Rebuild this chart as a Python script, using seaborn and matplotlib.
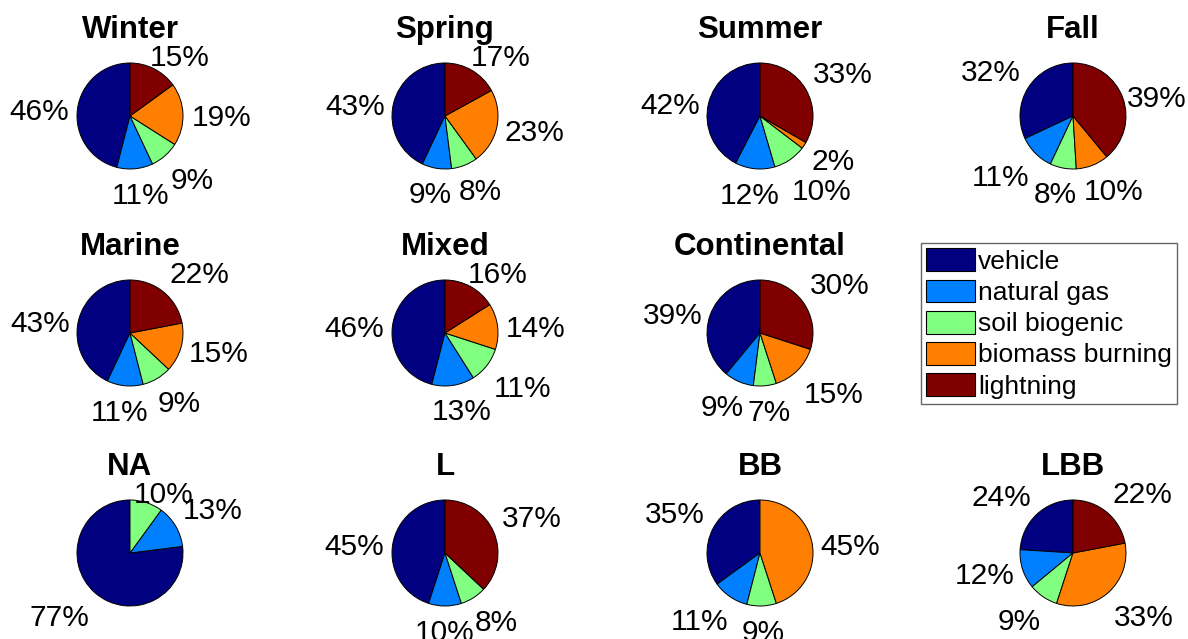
import numpy as np
import seaborn as sns
import matplotlib.pyplot as plt
from matplotlib.patches import Patch

# -----------------------------------------------
# 1. DATOS
# -----------------------------------------------

fuentes = ["vehicle", "natural gas", "soil biogenic", "biomass burning", "lightning"]
colores = ["#000080", "#0080FF", "#80FF80", "#FF8000", "#800000"]

titulos = ["Winter", "Spring", "Summer", "Fall",
           "Marine", "Mixed", "Continental",
           "NA", "L", "BB", "LBB"]

# orden: vehicle, natural gas, soil biogenic, biomass burning, lightning
winter = [46, 11, 9, 19, 15]
spring = [43, 9, 8, 23, 17]
summer = [42, 12, 10, 2, 33]
fall = [32, 11, 8, 10, 39]
marine = [43, 11, 9, 15, 22]
mixed = [46, 13, 11, 14, 16]
continental = [39, 9, 7, 15, 30]
na = [77, 13, 10, 0, 0]
l_case = [45, 10, 8, 0, 37]
bb = [35, 11, 9, 45, 0]
lbb = [24, 12, 9, 33, 22]

series = [winter, spring, summer, fall, marine, mixed, continental, na, l_case, bb, lbb]
celdas = [(0, 0), (0, 1), (0, 2), (0, 3),
          (1, 0), (1, 1), (1, 2),
          (2, 0), (2, 1), (2, 2), (2, 3)]

# -----------------------------------------------
# 2. ESTILO Y LAYOUT
# -----------------------------------------------

sns.set_style("white")
plt.rcParams["font.family"] = ["Liberation Sans", "DejaVu Sans"]
plt.rcParams["text.color"] = "black"

W, H = 1188, 639
R = 53                      # radio del pie en px
DIST = 1.16                 # distancia de las etiquetas (en radios)
TITULO_Y = 78               # linea base del titulo sobre el centro, px
PT = 72 / 100               # px -> puntos
col_x = [130, 445, 760, 1073]
fila_y = [116, 333, 553]

fig = plt.figure(figsize=(W / 100, H / 100), dpi=100)
grupos = []

for titulo, valores, (fila, col) in zip(titulos, series, celdas):
    cx, cy = col_x[col], fila_y[fila]
    ax = fig.add_axes([(cx - 150) / W, 1 - (cy + 105) / H, 300 / W, 210 / H])

    vals = [v for v in valores if v > 0]
    cols = [c for v, c in zip(valores, colores) if v > 0]
    wedges, _ = ax.pie(vals, colors=cols, startangle=90, counterclock=True,
                       wedgeprops=dict(edgecolor="black", linewidth=0.7))
    ax.set_aspect("auto")
    ax.set_xlim(-150 / R, 150 / R)
    ax.set_ylim(-105 / R, 105 / R)
    ax.axis("off")

    ax.text(0, TITULO_Y / R, titulo, ha="center", va="baseline",
            fontsize=22.5, fontweight="bold")

    etiquetas = []
    for w, v in zip(wedges, vals):
        ang = np.deg2rad((w.theta1 + w.theta2) / 2)
        t = ax.annotate(f"{v}%", xy=(DIST * np.cos(ang), DIST * np.sin(ang)),
                        xytext=(0, 0), textcoords="offset points",
                        ha="center", va="center", fontsize=21.5,
                        annotation_clip=False)
        etiquetas.append((t, ang))
    grupos.append(etiquetas)

# -----------------------------------------------
# 3. AJUSTE DE ETIQUETAS (estilo MATLAB)
# -----------------------------------------------

fig.canvas.draw()
renderer = fig.canvas.get_renderer()
for etiquetas in grupos:
    for t, ang in etiquetas:
        ancho = t.get_window_extent(renderer).width
        fx = np.clip(1.6 * np.cos(ang), -1, 1)
        dx = fx * ancho / 2
        s = np.sin(ang)
        fy = np.sign(s) * np.clip((abs(s) - 0.35) / 0.05, 0, 1)
        dy = 14.5 * fy - 2
        # no subir la etiqueta por encima del titulo
        dy = min(dy, TITULO_Y - 18 - DIST * R * s)
        dy -= 2   # centro visual de los digitos vs caja del texto
        t.xyann = (dx * PT, dy * PT)

# separar etiquetas que se pisan y no salir del borde derecho
fig.canvas.draw()
for etiquetas in grupos:
    for (t1, _), (t2, _) in zip(etiquetas[:-1], etiquetas[1:]):
        b1 = t1.get_window_extent(renderer)
        b2 = t2.get_window_extent(renderer)
        solape_x = min(b1.x1, b2.x1) - max(b1.x0, b2.x0) - 12
        solape_y = min(b1.y1, b2.y1) - max(b1.y0, b2.y0)
        if solape_x > 0 and solape_y > 0:
            arriba, abajo = (t1, t2) if b1.y0 > b2.y0 else (t2, t1)
            mov = (solape_y + 2) / 2 * PT
            arriba.xyann = (arriba.xyann[0], arriba.xyann[1] + mov)
            abajo.xyann = (abajo.xyann[0], abajo.xyann[1] - mov)
    for t, _ in etiquetas:
        b = t.get_window_extent(renderer)
        if b.x1 > W - 1:
            t.xyann = (t.xyann[0] - (b.x1 - W + 1) * PT, t.xyann[1])

# -----------------------------------------------
# 4. LEYENDA
# -----------------------------------------------

handles = [Patch(facecolor=c, edgecolor="black", linewidth=0.8) for c in colores]
leg = fig.legend(handles, fuentes, loc="upper left",
                 bbox_to_anchor=(921 / W, 1 - 243 / H),
                 fontsize=19, frameon=True, fancybox=False, edgecolor="0.4",
                 framealpha=1, borderaxespad=0, borderpad=0.2,
                 handlelength=1.85, handleheight=0.95, handletextpad=0.12,
                 labelspacing=0.22)
leg.get_frame().set_linewidth(1.0)

fig.savefig("out.png", dpi=100)
